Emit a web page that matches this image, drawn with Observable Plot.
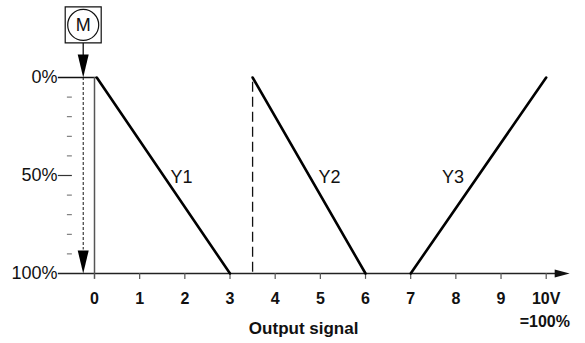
<!DOCTYPE html>
<html><head><meta charset="utf-8">
<script src="https://cdn.jsdelivr.net/npm/d3@7"></script>
<script src="https://cdn.jsdelivr.net/npm/@observablehq/plot@0.6"></script>
<style>body{margin:0;background:#fff}</style>
</head><body><div id="chart"></div>
<script>
// ---- data ----
const seriesNames = ["Y1", "Y2", "Y3"];
const y1Volts = [0.05, 3];  const y1Pos = [0, 100];
const y2Volts = [3.5, 6];   const y2Pos = [0, 100];
const y3Volts = [7, 10];    const y3Pos = [100, 0];
const labelVolts = [1.68, 4.96, 8.18];
const labelPos = [51, 51, 51];
const labelAnchor = ["start", "start", "end"];
const xTicks = [0, 1, 2, 3, 4, 5, 6, 7, 8, 9, 10];
const xTickLabels = ["0", "1", "2", "3", "4", "5", "6", "7", "8", "9", "10V"];
const yTickValues = [0, 50, 100];
const yTickLabels = ["0%", "50%", "100%"];
const yMinorTicks = [10, 20, 30, 40, 60, 70, 80, 90];
const xTitle = "Output signal";
const fullScaleNote = "=100%";
const motorLabel = "M";
const motorVolts = -0.25;
const deadbandVolts = 3.5;

const FONT = "Arial, 'Liberation Sans', sans-serif";
const toPts = (xs, ys) => xs.map((x, i) => ({x, y: ys[i]}));
const series = [toPts(y1Volts, y1Pos), toPts(y2Volts, y2Pos), toPts(y3Volts, y3Pos)];
const labels = seriesNames.map((s, i) => ({s, x: labelVolts[i], y: labelPos[i], a: labelAnchor[i]}));

const arrowDown = {draw(c) { c.moveTo(0, 0); c.lineTo(-5.5, -23); c.lineTo(5.5, -23); c.closePath(); }};
const arrowRight = {draw(c) { c.moveTo(0, 0); c.lineTo(-15, -4); c.lineTo(-15, 4); c.closePath(); }};
const boxSym = {draw(c) { c.rect(-18, -18, 36, 36); }};

const chart = Plot.plot({
  width: 585, height: 343,
  marginLeft: 94, marginRight: 39.3, marginTop: 77, marginBottom: 70,
  style: {fontFamily: FONT, background: "white"},
  x: {domain: [0, 10], axis: null},
  y: {domain: [0, 100], reverse: true, axis: null},
  marks: [
    // axes frame
    Plot.ruleY([0], {x1: -0.8, x2: y1Volts[0], stroke: "#111", strokeWidth: 1.5}),
    Plot.ruleY([100], {x1: -0.8, x2: 10.3, stroke: "#222", strokeWidth: 1.5}),
    Plot.dot([{x: 10.52, y: 100}], {x: "x", y: "y", symbol: arrowRight, fill: "#111", stroke: "none"}),
    Plot.ruleX([0], {y1: 0, y2: 103, stroke: "#555", strokeWidth: 1.5}),
    Plot.ruleX(xTicks.slice(1), {y1: 100, y2: 103, stroke: "#555", strokeWidth: 1.2}),
    Plot.ruleY(yMinorTicks, {x1: -0.6, x2: -0.49, stroke: "#666", strokeWidth: 1}),
    Plot.ruleY([50], {x1: -0.8, x2: -0.49, stroke: "#333", strokeWidth: 1.2}),
    Plot.text(yTickValues, {x: -0.82, y: d => d, text: (d, i) => yTickLabels[i], textAnchor: "end",
      fontSize: 18, fill: "#111"}),
    // deadband dashed line
    Plot.ruleX([deadbandVolts], {y1: 2.4, y2: 100, stroke: "#111", strokeWidth: 1.3, strokeDasharray: "10,5"}),
    // series
    ...series.map(s => Plot.line(s, {x: "x", y: "y", stroke: "#000", strokeWidth: 2.6})),
    Plot.text(labels.filter(d => d.a === "start"), {x: "x", y: "y", text: "s", textAnchor: "start", fontSize: 18, fill: "#111"}),
    Plot.text(labels.filter(d => d.a === "end"), {x: "x", y: "y", text: "s", textAnchor: "end", fontSize: 18, fill: "#111"}),
    // motor
    Plot.ruleX([motorVolts], {y1: 0, y2: 88, stroke: "#111", strokeWidth: 1, strokeDasharray: "3,2"}),
    Plot.ruleX([motorVolts], {y1: -17.5, y2: -11, stroke: "#111", strokeWidth: 1.3}),
    Plot.dot([{x: motorVolts, y: 0}, {x: motorVolts, y: 100}], {x: "x", y: "y", symbol: arrowDown, fill: "#000", stroke: "none"}),
    Plot.dot([{x: motorVolts, y: -26.8}], {x: "x", y: "y", symbol: boxSym, fill: "white", stroke: "#111", strokeWidth: 1.2}),
    Plot.dot([{x: motorVolts, y: -26.8}], {x: "x", y: "y", r: 15.5, fill: "none", stroke: "#111", strokeWidth: 1.2}),
    Plot.text([motorLabel], {x: motorVolts, y: -26.8, text: d => d, fontSize: 18, fill: "#111"}),
    // x tick labels
    Plot.text(xTicks, {x: d => d, y: 113, text: (d, i) => xTickLabels[i], fontSize: 16, fontWeight: "bold", fill: "#111"}),
    Plot.text([fullScaleNote], {x: 9.97, y: 124.7, text: d => d, fontSize: 16, fontWeight: "bold", fill: "#111"}),
    Plot.text([xTitle], {x: 4.63, y: 128, text: d => d, fontSize: 17, fontWeight: "bold", fill: "#111"})
  ]
});
document.getElementById("chart").appendChild(chart);
</script>
</body></html>
